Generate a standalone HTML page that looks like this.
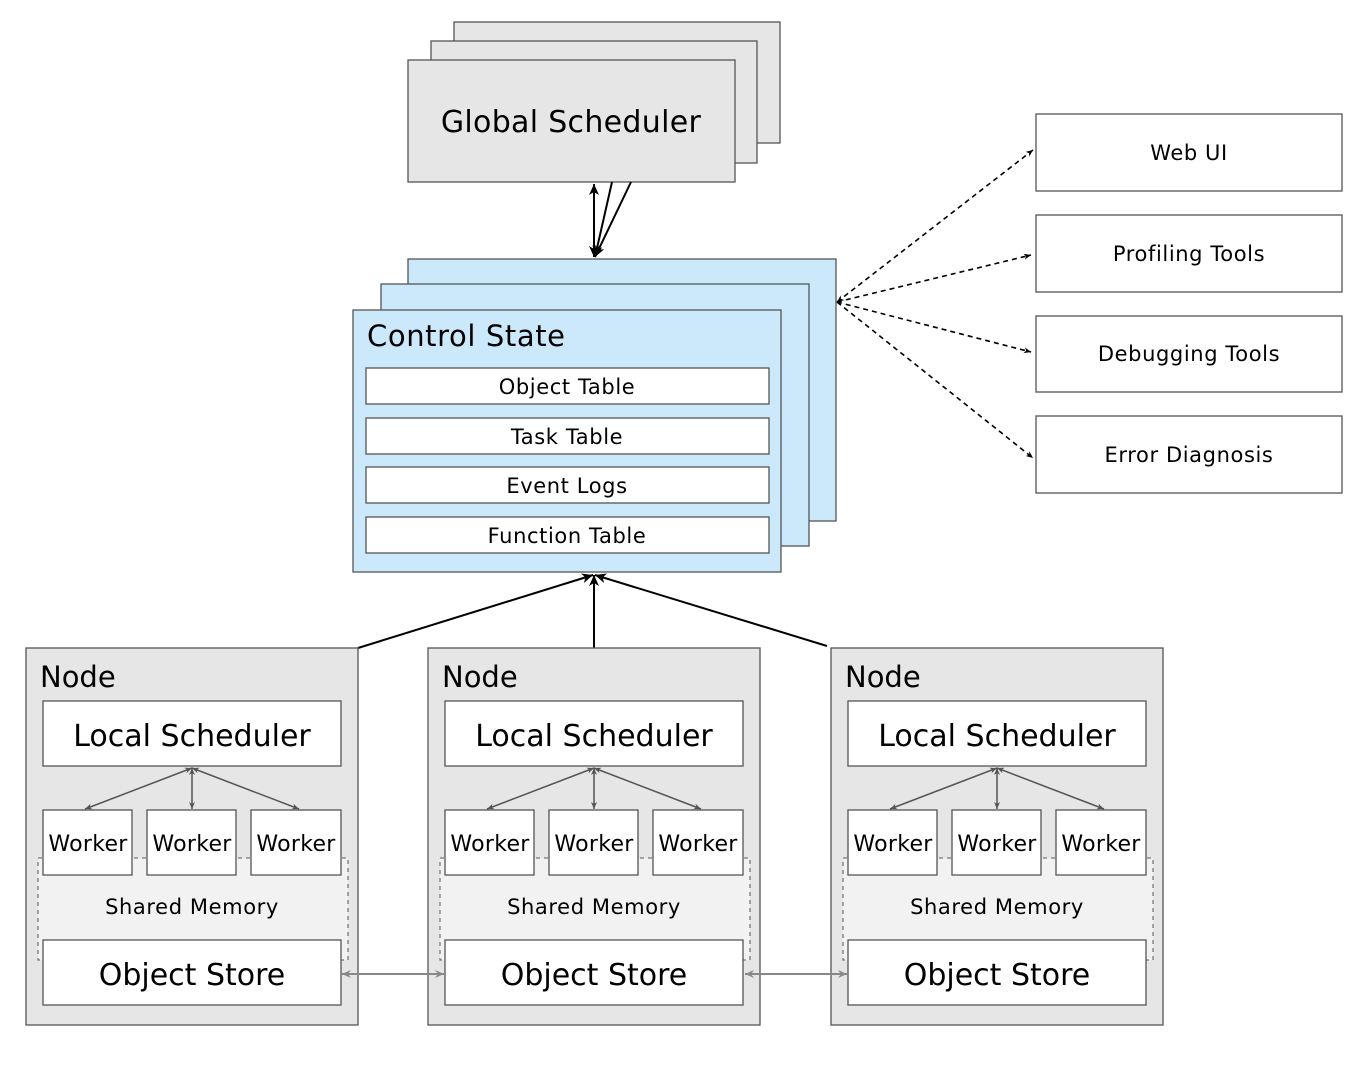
<!DOCTYPE html>
<html><head><style>
html,body{margin:0;padding:0;background:#fff}
svg text{font-family:"DejaVu Sans","Liberation Sans",sans-serif;fill:#000}
.s{letter-spacing:0.6px}
</style></head><body>
<svg width="1352" height="1080" viewBox="0 0 1352 1080" xmlns="http://www.w3.org/2000/svg">
<defs>
<marker id="ab" markerWidth="12" markerHeight="12" refX="11" refY="6" orient="auto-start-reverse" markerUnits="userSpaceOnUse"><path d="M0,1 L11,6 L0,11 L3,6 z" fill="#000"/></marker>
<marker id="as" markerWidth="8" markerHeight="8" refX="7" refY="4" orient="auto-start-reverse" markerUnits="userSpaceOnUse"><path d="M0,1 L7,4 L0,7 L2,4 z" fill="#000"/></marker>
<marker id="ag" markerWidth="8" markerHeight="8" refX="7" refY="4" orient="auto-start-reverse" markerUnits="userSpaceOnUse"><path d="M0,1 L7,4 L0,7 L2,4 z" fill="#555"/></marker>
<marker id="ag2" markerWidth="10" markerHeight="10" refX="9" refY="5" orient="auto-start-reverse" markerUnits="userSpaceOnUse"><path d="M0,1 L9,5 L0,9 L3,5 z" fill="#888"/></marker>
</defs>
<g stroke="#555" stroke-width="1.3" fill="#e6e6e6">
<rect x="454" y="22" width="326" height="121"/>
<rect x="431" y="41" width="326" height="122"/>
<rect x="408" y="60" width="327" height="122"/>
</g>
<text x="571" y="132" font-size="30" text-anchor="middle" style="letter-spacing:0.3px">Global Scheduler</text>
<g stroke="#000" stroke-width="2" fill="none">
<line x1="594" y1="184" x2="594" y2="257" marker-start="url(#ab)" marker-end="url(#ab)"/>
<line x1="612" y1="182" x2="595" y2="257" marker-end="url(#ab)"/>
<line x1="631" y1="182" x2="595" y2="257" marker-end="url(#ab)"/>
</g>
<g stroke="#555" stroke-width="1.3" fill="#cce8fb">
<rect x="408" y="259" width="428" height="262"/>
<rect x="381" y="284" width="428" height="262"/>
<rect x="353" y="310" width="428" height="262"/>
</g>
<text x="367" y="346" font-size="29" style="letter-spacing:0.6px">Control State</text>
<g stroke="#555" stroke-width="1.3" fill="#fff">
<rect x="366" y="368" width="403" height="36"/>
<rect x="366" y="418" width="403" height="36"/>
<rect x="366" y="467" width="403" height="36"/>
<rect x="366" y="517" width="403" height="36"/>
</g>
<g font-size="21" text-anchor="middle" class="s">
<text x="567" y="394">Object Table</text>
<text x="567" y="444">Task Table</text>
<text x="567" y="493">Event Logs</text>
<text x="567" y="543">Function Table</text>
</g>
<g stroke="#555" stroke-width="1.3" fill="#fff">
<rect x="1036" y="114" width="306" height="77"/>
<rect x="1036" y="215" width="306" height="77"/>
<rect x="1036" y="316" width="306" height="76"/>
<rect x="1036" y="416" width="306" height="77"/>
</g>
<g font-size="21" text-anchor="middle" class="s">
<text x="1189" y="160">Web UI</text>
<text x="1189" y="261">Profiling Tools</text>
<text x="1189" y="361">Debugging Tools</text>
<text x="1189" y="462">Error Diagnosis</text>
</g>
<g stroke="#000" stroke-width="1.6" fill="none" stroke-dasharray="5,4">
<line x1="837" y1="302" x2="1033" y2="150" marker-start="url(#as)" marker-end="url(#as)"/>
<line x1="837" y1="302" x2="1031" y2="255" marker-end="url(#as)"/>
<line x1="837" y1="302" x2="1031" y2="352" marker-end="url(#as)"/>
<line x1="837" y1="302" x2="1033" y2="458" marker-end="url(#as)"/>
</g>
<g stroke="#000" stroke-width="2" fill="none">
<line x1="358" y1="648" x2="593" y2="575" marker-end="url(#ab)"/>
<line x1="594" y1="648" x2="594" y2="575" marker-end="url(#ab)"/>
<line x1="827" y1="646" x2="595" y2="575" marker-end="url(#ab)"/>
</g>
<g id="n">
<rect x="26" y="648" width="332" height="377" fill="#e6e6e6" stroke="#555" stroke-width="1.3"/>
<text x="40" y="687" font-size="29">Node</text>
<rect x="38" y="858" width="310" height="102" fill="#f2f2f2" stroke="#777" stroke-width="1.3" stroke-dasharray="4,4"/>
<text x="192" y="914" font-size="21" text-anchor="middle" class="s">Shared Memory</text>
<g stroke="#555" stroke-width="1.3" fill="#fff">
<rect x="43" y="701" width="298" height="65"/>
<rect x="43" y="810" width="89" height="65"/>
<rect x="147" y="810" width="89" height="65"/>
<rect x="251" y="810" width="90" height="65"/>
<rect x="43" y="940" width="298" height="65"/>
</g>
<text x="192" y="746" font-size="30" text-anchor="middle">Local Scheduler</text>
<text x="192" y="985" font-size="30" text-anchor="middle">Object Store</text>
<g font-size="22" text-anchor="middle" style="letter-spacing:0.3px">
<text x="88" y="851">Worker</text>
<text x="192" y="851">Worker</text>
<text x="296" y="851">Worker</text>
</g>
<g stroke="#555" stroke-width="1.5">
<line x1="192" y1="768" x2="85" y2="809" marker-start="url(#ag)" marker-end="url(#ag)"/>
<line x1="192" y1="768" x2="192" y2="809" marker-start="url(#ag)" marker-end="url(#ag)"/>
<line x1="192" y1="768" x2="299" y2="809" marker-start="url(#ag)" marker-end="url(#ag)"/>
</g>
</g>
<use href="#n" x="402"/>
<use href="#n" x="805"/>
<g stroke="#888" stroke-width="2">
<line x1="342" y1="974" x2="444" y2="974" marker-start="url(#ag2)" marker-end="url(#ag2)"/>
<line x1="745" y1="974" x2="847" y2="974" marker-start="url(#ag2)" marker-end="url(#ag2)"/>
</g>
</svg>
</body></html>
